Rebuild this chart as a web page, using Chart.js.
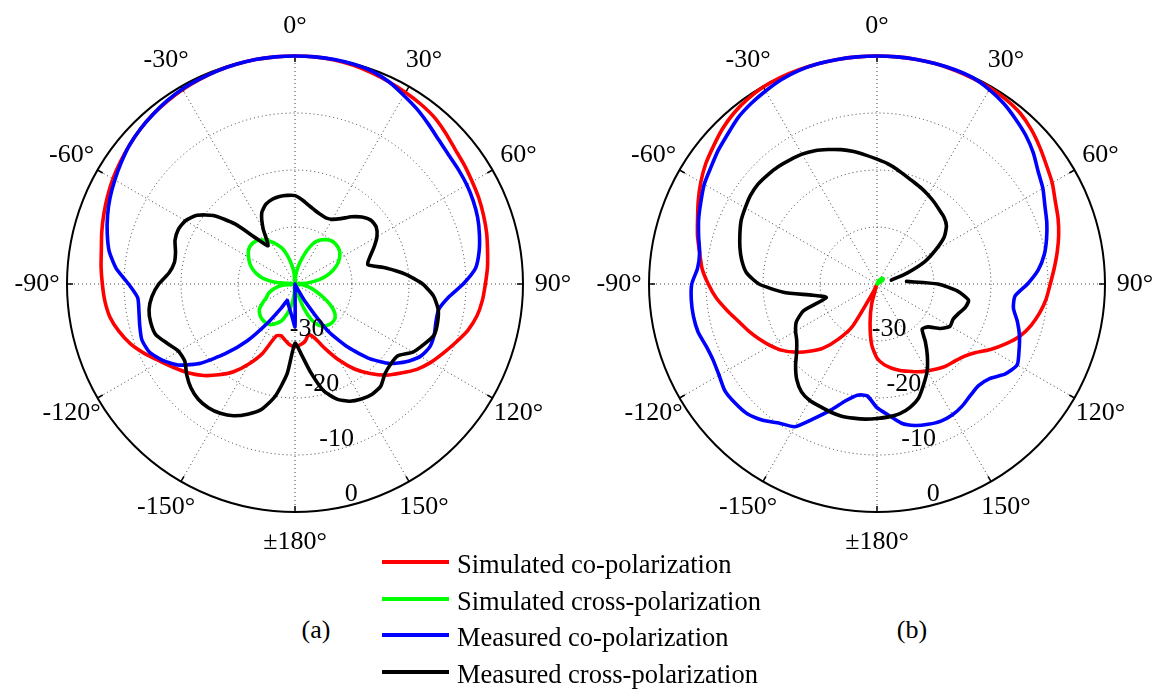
<!DOCTYPE html>
<html>
<head>
<meta charset="utf-8">
<title>Radiation patterns</title>
<script src="https://cdn.jsdelivr.net/npm/chart.js@4.4.1/dist/chart.umd.min.js"></script>
<style>
  html, body { margin: 0; padding: 0; background: #fff; width: 1159px; height: 691px; overflow: hidden; }
  body { position: relative; font-family: "Liberation Serif", "Times New Roman", serif; color: #000; }
  canvas { position: absolute; top: 0; }
  #patA { left: 0; }
  #patB { left: 582px; }
  .caption { position: absolute; font-size: 26px; line-height: 26px; transform: translate(-50%, -50%); white-space: nowrap; }
  .key-line { position: absolute; left: 382px; width: 67px; height: 4px; }
  .key-text { position: absolute; left: 457px; font-size: 26.5px; line-height: 26px; white-space: nowrap; }
</style>
</head>
<body>
<canvas id="patA" width="590" height="568"></canvas>
<canvas id="patB" width="577" height="568"></canvas>
<div class="caption" style="left:316px;top:630px">(a)</div>
<div class="caption" style="left:912px;top:630px">(b)</div>
<div id="key"></div>
<script>
// Bearing of every sample, clockwise from broadside (degrees, 5° step)
const bearings = [0,5,10,15,20,25,30,35,40,45,50,55,60,65,70,75,80,85,90,
  95,100,105,110,115,120,125,130,135,140,145,150,155,160,165,170,175,180,
  185,190,195,200,205,210,215,220,225,230,235,240,245,250,255,260,265,270,
  275,280,285,290,295,300,305,310,315,320,325,330,335,340,345,350,355];

const spokeLabels = ['0°','30°','60°','90°','120°','150°','±180°','-150°','-120°','-90°','-60°','-30°'];
const radialTicks = [-30, -20, -10, 0];

const seriesNames = ['Simulated co-polarization', 'Simulated cross-polarization',
                     'Measured co-polarization', 'Measured cross-polarization'];
const seriesColors = ['#ff0000', '#00ff00', '#0000ff', '#000000'];

// Normalized gain (dB), pattern (a)
const aSimCo = [0,0,-0.1,-0.3,-0.6,-0.9,-1.2,-1.5,-1.9,-2.6,-3.3,-3.7,-4.1,-4.4,-4.8,-5.2,-5.7,-6.1,-6.6,
  -7.0,-7.6,-8.6,-10.0,-11.3,-12.5,-13.9,-15.7,-17.4,-19.5,-21.8,-24.6,-27.5,-29.9,-30.8,-29.8,-29.3,-29.0,
  -29.3,-30.0,-30.6,-30.3,-26.6,-23.8,-21.2,-19.2,-17.3,-15.7,-14.3,-12.8,-11.0,-9.3,-8.0,-7.0,-6.5,-6.2,
  -5.85,-5.5,-4.9,-4.3,-3.7,-3.1,-2.6,-2.1,-1.6,-1.2,-0.9,-0.6,-0.4,-0.2,-0.1,0,0];
const aSimCross = [-40,-38.5,-37,-35.5,-33.6,-32.0,-31.1,-30.5,-30.1,-30.0,-30.1,-30.4,-31.0,-31.8,-32.9,-34.2,-35.8,-37.8,-40,
  -39,-38,-37,-36,-34.6,-33.0,-31.6,-30.8,-30.6,-30.7,-31.0,-31.6,-33.0,-35.5,-38.5,-40,-40,-40,
  -38,-36,-34.5,-33.1,-32.4,-31.8,-31.5,-31.5,-31.6,-31.9,-32.4,-33.5,-34.5,-35.0,-35.8,-36.8,-38,-40,
  -36.5,-34.3,-33.0,-32.0,-31.2,-30.6,-30.0,-29.7,-29.7,-30.0,-30.6,-31.4,-32.3,-33.3,-34.8,-36.5,-38];
const aMeasCo = [0,0,0,-0.1,-0.3,-0.9,-1.8,-2.6,-3.5,-4.3,-4.8,-5.0,-5.2,-5.5,-5.9,-6.5,-7.2,-8.2,-10.5,
  -13.0,-14.4,-14.4,-14.0,-13.9,-14.6,-16.2,-18.3,-21.5,-25.5,-30.0,-36.5,-39.5,-40,-40,-40,-40,-32.5,
  -34.2,-35.2,-35.9,-36.4,-36.8,-35.0,-31.7,-27.0,-22.7,-18.4,-15.2,-13.2,-11.8,-11.4,-11.8,-12.2,-12.3,-10.8,
  -8.5,-6.9,-5.9,-5.0,-4.2,-3.5,-2.8,-2.1,-1.6,-1.2,-0.8,-0.5,-0.35,-0.2,-0.1,0,0];
const aMeasCross = [-24.5,-25.2,-26.0,-26.6,-27.0,-27.2,-26.9,-26.0,-24.6,-23.4,-22.6,-22.6,-23.4,-24.7,-26.0,-26.8,-23.8,-20.5,-17.6,
  -15.6,-14.5,-14.1,-14.0,-15.0,-16.1,-18.0,-18.1,-17.7,-16.6,-16.4,-16.7,-17.3,-18.5,-20.6,-24.3,-27.7,-29.6,
  -24.2,-20.0,-17.2,-15.7,-14.5,-13.8,-13.5,-13.6,-14.2,-15.2,-16.4,-16.4,-15.3,-14.0,-13.8,-14.0,-14.8,-16.1,
  -17.8,-18.5,-18.3,-17.6,-17.4,-17.8,-19.0,-21.3,-25.1,-29.7,-31.8,-28.8,-26.2,-25.1,-24.6,-24.4,-24.4];

// Normalized gain (dB), pattern (b)
const bSimCo = [0,0,0,0,-0.1,-0.2,-0.3,-0.5,-0.9,-1.7,-2.7,-3.7,-4.5,-5.5,-6.2,-7.0,-7.9,-8.8,-9.6,
  -10.2,-11.0,-12.0,-13.3,-15.1,-17.0,-19.0,-20.2,-20.8,-21.2,-21.8,-22.4,-23.0,-23.7,-24.3,-25.0,-25.8,-27.0,
  -29.3,-33.0,-36.4,-39.8,-38.5,-31.5,-28.2,-25.3,-23.3,-21.4,-19.7,-18.4,-17.2,-16.0,-14.8,-13.3,-11.7,-10.4,
  -9.2,-8.4,-7.4,-6.5,-5.4,-4.3,-3.3,-2.5,-1.6,-0.9,-0.4,-0.1,0,0,0,0,0];
const bSimCross = [-40,-40,-40,-40,-39.8,-39.6,-39.3,-39.0,-38.8,-38.6,-38.6,-38.8,-39.2,-39.6,-40,-40,-40,-40,-40,
  -40,-40,-40,-40,-40,-40,-40,-40,-40,-40,-40,-40,-40,-40,-40,-40,-40,-40,
  -40,-40,-40,-40,-40,-40,-40,-40,-40,-40,-40,-40,-40,-40,-40,-40,-40,-40,
  -40,-40,-40,-40,-40,-40,-40,-40,-40,-40,-40,-40,-40,-40,-40,-40,-40];
const bMeasCo = [0,0,0,0,0,-0.1,-0.6,-1.3,-2.2,-3.1,-4.2,-5.5,-6.4,-7.5,-8.3,-9.2,-10.2,-11.6,-13.6,
  -15.7,-15.7,-14.5,-13.4,-12.5,-11.6,-12.5,-14.2,-14.8,-14.5,-13.9,-13.5,-13.45,-13.8,-14.3,-15.2,-16.9,-18.3,
  -20.3,-20.2,-18.8,-16.5,-14.0,-11.1,-10.2,-8.8,-7.8,-7.5,-7.4,-8.0,-8.3,-8.1,-7.5,-7.3,-7.3,-7.5,
  -8.4,-8.4,-7.6,-6.7,-5.9,-5.0,-4.4,-3.6,-2.9,-2.0,-1.4,-0.9,-0.4,-0.1,0,0,0];
const bMeasCross = [-18.1,-18.8,-19.6,-20.4,-21.0,-21.5,-22.0,-22.5,-23.0,-23.4,-24.1,-25.6,-28.2,-30.8,-34.4,-37.4,null,-34.8,-29.3,
  -25.8,-23.7,-24.0,-24.8,-25.3,-25.2,-26.4,-28.3,-28.8,-26.8,-24.6,-22.4,-20.6,-18.7,-17.6,-16.9,-16.6,-16.4,
  -16.2,-16.1,-16.0,-16.1,-16.3,-16.4,-16.9,-18.1,-19.8,-21.6,-22.8,-23.5,-24.4,-26.3,-30.8,-28.6,-23.5,-19.3,
  -17.0,-15.9,-15.1,-14.4,-13.7,-13.3,-12.9,-12.75,-12.9,-13.1,-13.4,-13.7,-14.2,-14.9,-15.6,-16.4,-17.3];

const tickBearing = 165;   // spoke along which the dB rings are labelled

// Outer-rim tick marks, angle labels and dB ring labels
const polarFrame = {
  id: 'polarFrame',
  beforeDatasetsDraw(chart) {
    const s = chart.scales.r, ctx = chart.ctx, R = s.drawingArea;
    ctx.save();
    ctx.strokeStyle = '#000';
    ctx.lineWidth = 1.5;
    spokeLabels.forEach((_, k) => {
      const i = bearings.indexOf(k * 30);
      const p0 = s.getPointPosition(i, R);
      const p1 = s.getPointPosition(i, R - 6);
      ctx.beginPath(); ctx.moveTo(p0.x, p0.y); ctx.lineTo(p1.x, p1.y); ctx.stroke();
    });
    ctx.restore();
  },
  afterDatasetsDraw(chart) {
    const s = chart.scales.r, ctx = chart.ctx, R = s.drawingArea;
    ctx.save();
    ctx.fillStyle = '#000';
    ctx.font = '26px "Liberation Serif"';
    ctx.textAlign = 'center';
    ctx.textBaseline = 'middle';
    spokeLabels.forEach((txt, k) => {
      const p = s.getPointPosition(bearings.indexOf(k * 30), R + 30);
      ctx.fillText(txt, p.x, p.y);
    });
    const ti = bearings.indexOf(tickBearing);
    radialTicks.forEach(v => {
      const p = s.getPointPositionForValue(ti, v - 1.8);
      ctx.fillText(String(v), p.x, p.y);
    });
    ctx.restore();
  }
};

const dotted = 'rgba(0,0,0,0.75)';

function patternChart(canvasId, series, pad) {
  return new Chart(document.getElementById(canvasId), {
    type: 'radar',
    data: {
      labels: bearings,
      datasets: series.map((vals, k) => ({
        label: seriesNames[k],
        data: vals,
        borderColor: seriesColors[k],
        backgroundColor: seriesColors[k],
        order: series.length - 1 - k
      }))
    },
    options: {
      responsive: false,
      animation: false,
      events: [],
      layout: { padding: pad },
      plugins: { legend: { display: false }, tooltip: { enabled: false } },
      elements: {
        point: { radius: 0, hoverRadius: 0 },
        line: { tension: 0.2, borderWidth: 3.6, fill: false, borderJoinStyle: 'round', borderCapStyle: 'round' }
      },
      scales: {
        r: {
          min: -40,
          max: 0,
          ticks: { display: false, stepSize: 10 },
          pointLabels: { display: false },
          grid: {
            circular: true,
            color: c => (c.tick && c.tick.value === 0) ? '#000' : dotted,
            lineWidth: c => (c.tick && c.tick.value === 0) ? 2 : (c.tick && c.tick.value === -40 ? 0 : 1)
          },
          border: { dash: c => (c.tick && c.tick.value === 0) ? [] : [1, 3] },
          angleLines: {
            color: c => (c.index % 6 === 0) ? dotted : 'rgba(0,0,0,0)',
            lineWidth: c => (c.index % 6 === 0) ? 1 : 0,
            borderDash: [1, 3]
          }
        }
      }
    },
    plugins: [polarFrame]
  });
}

patternChart('patA', [aSimCo, aSimCross, aMeasCo, aMeasCross], { left: 67, right: 67, top: 56, bottom: 56 });
patternChart('patB', [bSimCo, bSimCross, bMeasCo, bMeasCross], { left: 67, right: 54, top: 56, bottom: 56 });

// Shared key below the two patterns
const key = document.getElementById('key');
const keyTop = 562, keyStep = 36.7;
seriesNames.forEach((name, k) => {
  const y = keyTop + k * keyStep;
  const line = document.createElement('div');
  line.className = 'key-line';
  line.style.top = (y - 2) + 'px';
  line.style.background = seriesColors[k];
  const txt = document.createElement('div');
  txt.className = 'key-text';
  txt.style.top = (y - 11) + 'px';
  txt.textContent = name;
  key.appendChild(line);
  key.appendChild(txt);
});
</script>
</body>
</html>
